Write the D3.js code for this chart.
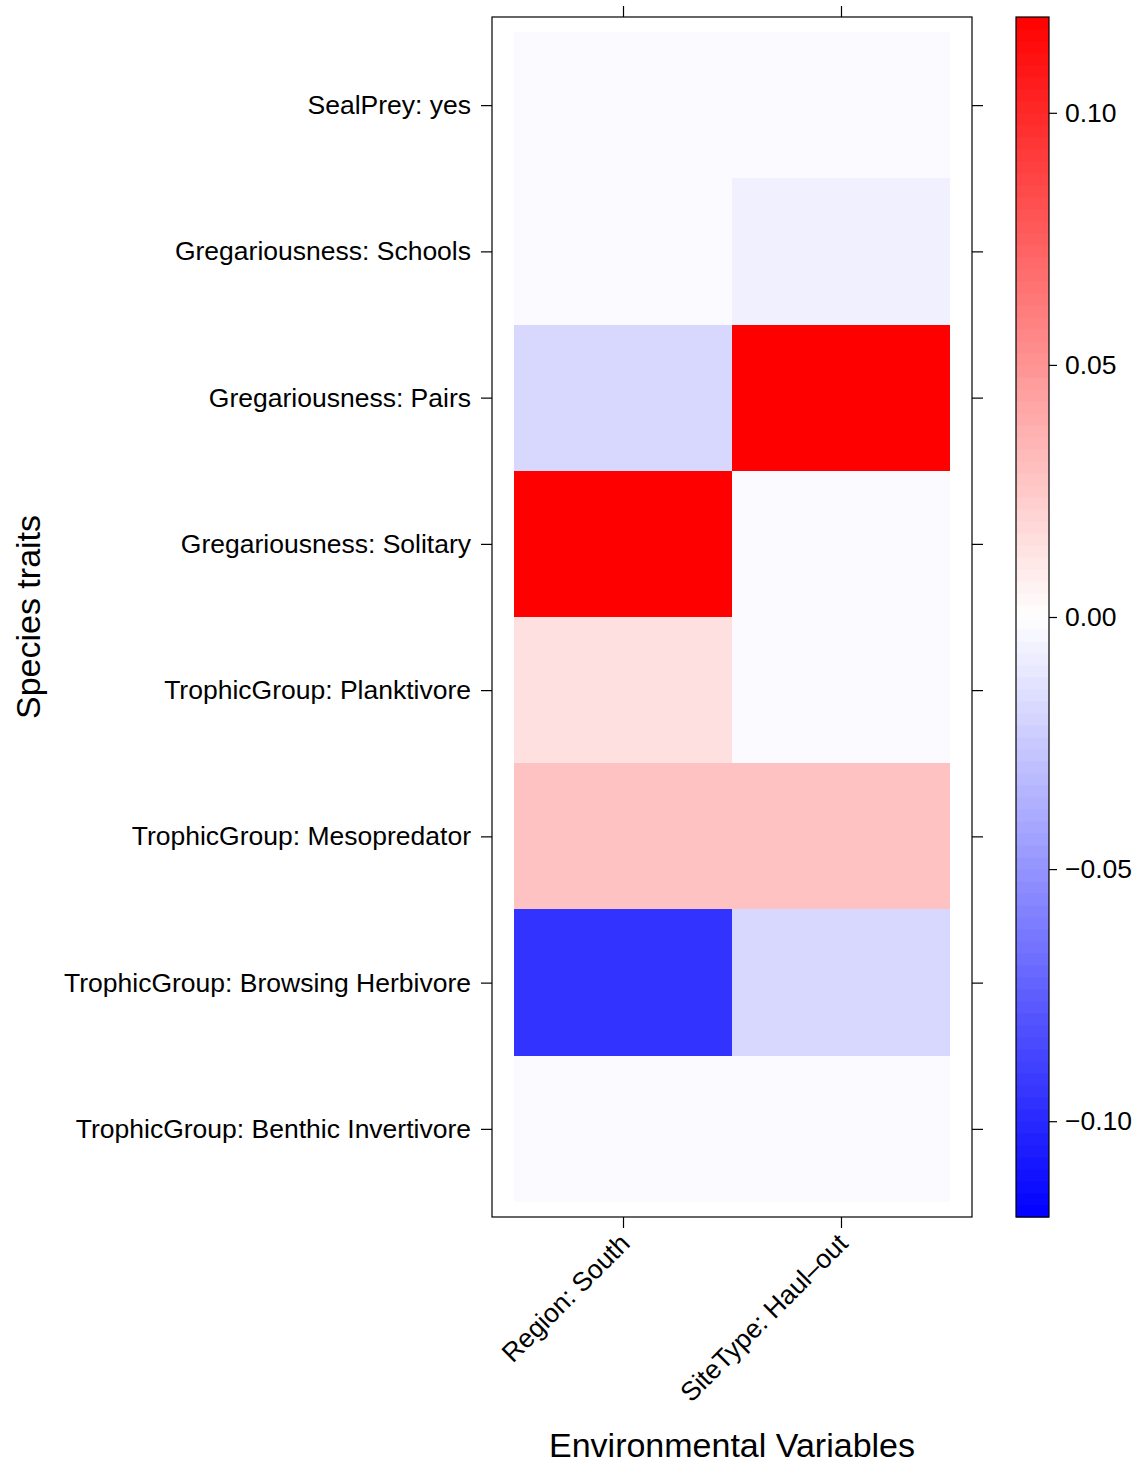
<!DOCTYPE html>
<html>
<head>
<meta charset="utf-8">
<script src="https://cdn.jsdelivr.net/npm/d3@7"></script>
<style>
  body { margin: 0; background: #fff; }
  svg { display: block; font-family: "Liberation Sans", Arial, Helvetica, sans-serif; }
</style>
</head>
<body>
<svg id="chart" width="1140" height="1463"></svg>
<script>
// Species traits, listed bottom to top as in the level plot
const traits = [
  "TrophicGroup: Benthic Invertivore",
  "TrophicGroup: Browsing Herbivore",
  "TrophicGroup: Mesopredator",
  "TrophicGroup: Planktivore",
  "Gregariousness: Solitary",
  "Gregariousness: Pairs",
  "Gregariousness: Schools",
  "SealPrey: yes"
];
const envVars = ["Region: South", "SiteType: Haul\u2013out"];

// Fourth-corner coefficients per trait (same order as traits)
const regionSouth = [-0.002, -0.095, 0.0285, 0.0145, 0.119, -0.018, -0.002, -0.002];
const siteHaulOut = [-0.002, -0.018, 0.0285, -0.002, -0.002, 0.119, -0.007, -0.002];

const legendTicks = [-0.10, -0.05, 0.00, 0.05, 0.10];
const colorLimit = 0.119;

const cells = [];
traits.forEach((t, i) => {
  cells.push({ trait: t, env: envVars[0], row: i + 1, col: 1, value: regionSouth[i] });
  cells.push({ trait: t, env: envVars[1], row: i + 1, col: 2, value: siteHaulOut[i] });
});

const svg = d3.select("#chart");
const labelFont = 26.5;
const titleFont = 34;

// Panel geometry
const panel = { left: 492, right: 972, top: 17, bottom: 1217 };
const padX = 0.101, padY = 0.1026;
const x = d3.scaleLinear().domain([0.5 - padX, envVars.length + 0.5 + padX]).range([panel.left, panel.right]);
const y = d3.scaleLinear().domain([0.5 - padY, traits.length + 0.5 + padY]).range([panel.bottom, panel.top]);

const color = d3.scaleLinear()
  .domain([-colorLimit, 0, colorLimit])
  .range(["#0000ff", "#ffffff", "#ff0000"])
  .clamp(true);

// Heat-map cells
svg.append("g").selectAll("rect").data(cells).join("rect")
  .attr("x", d => x(d.col - 0.5))
  .attr("y", d => y(d.row + 0.5))
  .attr("width", d => x(d.col + 0.5) - x(d.col - 0.5))
  .attr("height", d => y(d.row - 0.5) - y(d.row + 0.5))
  .attr("fill", d => color(d.value))
  .attr("shape-rendering", "crispEdges");

// Panel frame
svg.append("rect")
  .attr("x", panel.left).attr("y", panel.top)
  .attr("width", panel.right - panel.left).attr("height", panel.bottom - panel.top)
  .attr("fill", "none").attr("stroke", "#000").attr("stroke-width", 1.2);

const tickLen = 11;
const rowIdx = d3.range(1, traits.length + 1);
const colIdx = d3.range(1, envVars.length + 1);

// Left axis with trait labels
const leftAxis = svg.append("g").attr("transform", `translate(${panel.left},0)`)
  .call(d3.axisLeft(y).tickValues(rowIdx).tickSize(tickLen).tickPadding(10)
    .tickFormat(i => traits[i - 1]));
// Right axis ticks only
const rightAxis = svg.append("g").attr("transform", `translate(${panel.right},0)`)
  .call(d3.axisRight(y).tickValues(rowIdx).tickSize(tickLen).tickFormat(""));
// Top axis ticks only
const topAxis = svg.append("g").attr("transform", `translate(0,${panel.top})`)
  .call(d3.axisTop(x).tickValues(colIdx).tickSize(tickLen).tickFormat(""));
// Bottom axis with rotated variable labels
const bottomAxis = svg.append("g").attr("transform", `translate(0,${panel.bottom})`)
  .call(d3.axisBottom(x).tickValues(colIdx).tickSize(tickLen).tickFormat(i => envVars[i - 1]));

[leftAxis, rightAxis, topAxis, bottomAxis].forEach(g => {
  g.select(".domain").remove();
  g.selectAll(".tick line").attr("stroke", "#000").attr("stroke-width", 1.2);
});
leftAxis.selectAll(".tick text").attr("font-size", labelFont).attr("fill", "#000")
  .attr("font-family", "Liberation Sans, Arial, sans-serif");
bottomAxis.selectAll(".tick text")
  .attr("font-size", labelFont).attr("fill", "#000")
  .attr("font-family", "Liberation Sans, Arial, sans-serif")
  .attr("text-anchor", "end")
  .attr("y", 0).attr("dy", 0)
  .attr("transform", "translate(8,28) rotate(-45)");

// Colour key
const key = { left: 1016, right: 1049, top: 17, bottom: 1217 };
const keyY = d3.scaleLinear().domain([-colorLimit, colorLimit]).range([key.bottom, key.top]);
const nBands = 100;
const bandEdges = d3.range(nBands + 1).map(i => -colorLimit + (2 * colorLimit) * i / nBands);
svg.append("g").selectAll("rect").data(d3.range(nBands)).join("rect")
  .attr("x", key.left)
  .attr("width", key.right - key.left)
  .attr("y", i => keyY(bandEdges[i + 1]))
  .attr("height", i => keyY(bandEdges[i]) - keyY(bandEdges[i + 1]) + 0.5)
  .attr("fill", i => color((bandEdges[i] + bandEdges[i + 1]) / 2));
svg.append("rect")
  .attr("x", key.left).attr("y", key.top)
  .attr("width", key.right - key.left).attr("height", key.bottom - key.top)
  .attr("fill", "none").attr("stroke", "#000").attr("stroke-width", 1.2);

const keyAxis = svg.append("g").attr("transform", `translate(${key.right},0)`)
  .call(d3.axisRight(keyY).tickValues(legendTicks).tickSize(8).tickPadding(8)
    .tickFormat(v => d3.format(".2f")(v).replace("-", "\u2013")));
keyAxis.select(".domain").remove();
keyAxis.selectAll(".tick line").attr("stroke", "#000").attr("stroke-width", 1.2);
keyAxis.selectAll(".tick text").attr("font-size", labelFont).attr("fill", "#000")
  .attr("font-family", "Liberation Sans, Arial, sans-serif");

// Axis titles
svg.append("text")
  .attr("x", (panel.left + panel.right) / 2).attr("y", 1457)
  .attr("text-anchor", "middle").attr("font-size", titleFont)
  .text("Environmental Variables");
svg.append("text")
  .attr("transform", `translate(40,${(panel.top + panel.bottom) / 2}) rotate(-90)`)
  .attr("text-anchor", "middle").attr("font-size", titleFont)
  .text("Species traits");
</script>
</body>
</html>
